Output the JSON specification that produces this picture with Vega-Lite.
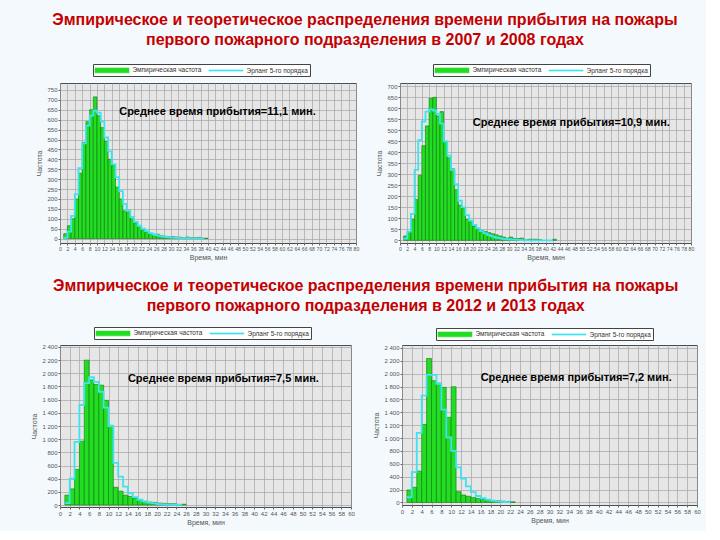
{
  "$schema": "https://vega.github.io/schema/vega-lite/v6.json",
  "background": "#f3f9fc",
  "padding": {"left": 30, "top": 12, "right": 5, "bottom": 5},
  "datasets": {
    "p1": [
      {"t":1,"te":2,"emp":25,"erl":4},{"t":2,"te":3,"emp":65,"erl":35},{"t":3,"te":4,"emp":100,"erl":115},{"t":4,"te":5,"emp":200,"erl":225},
      {"t":5,"te":6,"emp":330,"erl":355},{"t":6,"te":7,"emp":485,"erl":480},{"t":7,"te":8,"emp":590,"erl":570},{"t":8,"te":9,"emp":650,"erl":620},
      {"t":9,"te":10,"emp":715,"erl":645},{"t":10,"te":11,"emp":620,"erl":635},{"t":11,"te":12,"emp":560,"erl":590},{"t":12,"te":13,"emp":490,"erl":510},
      {"t":13,"te":14,"emp":400,"erl":440},{"t":14,"te":15,"emp":370,"erl":375},{"t":15,"te":16,"emp":260,"erl":310},{"t":16,"te":17,"emp":200,"erl":240},
      {"t":17,"te":18,"emp":140,"erl":175},{"t":18,"te":19,"emp":140,"erl":140},{"t":19,"te":20,"emp":100,"erl":110},{"t":20,"te":21,"emp":80,"erl":85},
      {"t":21,"te":22,"emp":60,"erl":65},{"t":22,"te":23,"emp":45,"erl":50},{"t":23,"te":24,"emp":35,"erl":38},{"t":24,"te":25,"emp":25,"erl":28},
      {"t":25,"te":26,"emp":22,"erl":21},{"t":26,"te":27,"emp":22,"erl":16},{"t":27,"te":28,"emp":15,"erl":12},{"t":28,"te":29,"emp":12,"erl":9},
      {"t":29,"te":30,"emp":10,"erl":7},{"t":30,"te":31,"emp":10,"erl":5},{"t":31,"te":32,"emp":8,"erl":4},{"t":32,"te":33,"emp":7,"erl":3},
      {"t":33,"te":34,"emp":5,"erl":2},{"t":34,"te":35,"emp":8,"erl":2},{"t":35,"te":36,"emp":5,"erl":1},{"t":36,"te":37,"emp":5,"erl":1},
      {"t":37,"te":38,"emp":6,"erl":1},{"t":38,"te":39,"emp":3,"erl":0},{"t":39,"te":40,"emp":2,"erl":0}
    ],
    "p2": [
      {"t":1,"te":2,"emp":20,"erl":8},{"t":2,"te":3,"emp":40,"erl":40},{"t":3,"te":4,"emp":95,"erl":120},{"t":4,"te":5,"emp":185,"erl":320},
      {"t":5,"te":6,"emp":295,"erl":455},{"t":6,"te":7,"emp":430,"erl":540},{"t":7,"te":8,"emp":520,"erl":585},{"t":8,"te":9,"emp":645,"erl":595},
      {"t":9,"te":10,"emp":650,"erl":590},{"t":10,"te":11,"emp":565,"erl":575},{"t":11,"te":12,"emp":585,"erl":530},{"t":12,"te":13,"emp":450,"erl":450},
      {"t":13,"te":14,"emp":375,"erl":385},{"t":14,"te":15,"emp":325,"erl":320},{"t":15,"te":16,"emp":230,"erl":255},{"t":16,"te":17,"emp":160,"erl":180},
      {"t":17,"te":18,"emp":145,"erl":150},{"t":18,"te":19,"emp":95,"erl":115},{"t":19,"te":20,"emp":85,"erl":90},{"t":20,"te":21,"emp":65,"erl":70},
      {"t":21,"te":22,"emp":50,"erl":55},{"t":22,"te":23,"emp":45,"erl":42},{"t":23,"te":24,"emp":40,"erl":32},{"t":24,"te":25,"emp":35,"erl":24},
      {"t":25,"te":26,"emp":30,"erl":18},{"t":26,"te":27,"emp":25,"erl":13},{"t":27,"te":28,"emp":20,"erl":10},{"t":28,"te":29,"emp":15,"erl":7},
      {"t":29,"te":30,"emp":10,"erl":5},{"t":30,"te":31,"emp":15,"erl":4},{"t":31,"te":32,"emp":8,"erl":3},{"t":32,"te":33,"emp":8,"erl":2},
      {"t":33,"te":34,"emp":10,"erl":1},{"t":34,"te":35,"emp":3,"erl":1},{"t":35,"te":36,"emp":5,"erl":0},{"t":36,"te":37,"emp":5,"erl":0},
      {"t":37,"te":38,"emp":5,"erl":0},{"t":38,"te":39,"emp":3,"erl":0},{"t":42,"te":43,"emp":5,"erl":0}
    ],
    "p3": [
      {"t":1,"te":2,"emp":150,"erl":30},{"t":2,"te":3,"emp":245,"erl":400},{"t":3,"te":4,"emp":540,"erl":960},{"t":4,"te":5,"emp":970,"erl":1520},
      {"t":5,"te":6,"emp":2200,"erl":1850},{"t":6,"te":7,"emp":1900,"erl":1940},{"t":7,"te":8,"emp":1830,"erl":1870},{"t":8,"te":9,"emp":1820,"erl":1720},
      {"t":9,"te":10,"emp":1590,"erl":1480},{"t":10,"te":11,"emp":1210,"erl":1200},{"t":11,"te":12,"emp":270,"erl":640},{"t":12,"te":13,"emp":210,"erl":430},
      {"t":13,"te":14,"emp":150,"erl":280},{"t":14,"te":15,"emp":130,"erl":180},{"t":15,"te":16,"emp":105,"erl":120},{"t":16,"te":17,"emp":75,"erl":80},
      {"t":17,"te":18,"emp":55,"erl":55},{"t":18,"te":19,"emp":45,"erl":35},{"t":19,"te":20,"emp":40,"erl":25},{"t":20,"te":21,"emp":30,"erl":15},
      {"t":21,"te":22,"emp":25,"erl":10},{"t":22,"te":23,"emp":20,"erl":6},{"t":23,"te":24,"emp":20,"erl":4},{"t":24,"te":25,"emp":10,"erl":2},
      {"t":25,"te":26,"emp":12,"erl":0}
    ],
    "p4": [
      {"t":1,"te":2,"emp":193,"erl":80},{"t":2,"te":3,"emp":235,"erl":470},{"t":3,"te":4,"emp":486,"erl":1080},{"t":4,"te":5,"emp":1211,"erl":1660},
      {"t":5,"te":6,"emp":2235,"erl":1980},{"t":6,"te":7,"emp":1890,"erl":1980},{"t":7,"te":8,"emp":1854,"erl":1840},{"t":8,"te":9,"emp":1786,"erl":1440},
      {"t":9,"te":10,"emp":1321,"erl":1010},{"t":10,"te":11,"emp":1796,"erl":800},{"t":11,"te":12,"emp":167,"erl":545},{"t":12,"te":13,"emp":115,"erl":370},
      {"t":13,"te":14,"emp":95,"erl":250},{"t":14,"te":15,"emp":75,"erl":160},{"t":15,"te":16,"emp":60,"erl":100},{"t":16,"te":17,"emp":45,"erl":65},
      {"t":17,"te":18,"emp":35,"erl":42},{"t":18,"te":19,"emp":30,"erl":27},{"t":19,"te":20,"emp":25,"erl":17},{"t":20,"te":21,"emp":20,"erl":10},
      {"t":21,"te":22,"emp":15,"erl":6},{"t":22,"te":23,"emp":10,"erl":3}
    ]
  },
  "vconcat": [
    {
      "title": {
        "text": ["Эмпирическое и теоретическое распределения времени прибытия на пожары", "первого пожарного подразделения в 2007 и 2008 годах"],
        "anchor": "middle", "font": "Liberation Sans", "fontSize": 16, "fontWeight": "bold", "color": "#c40000", "lineHeight": 20, "offset": 15
      },
      "spacing": 15,
      "resolve": {"scale": {"color": "independent"}, "legend": {"color": "independent"}},
      "hconcat": [
        {
          "width": 296, "height": 160,
          "encoding": {
            "x": {"type": "quantitative", "scale": {"domain": [0, 80], "nice": false, "zero": false},
                  "axis": {"title": "Время, мин", "labelFontSize": 5.2, "values": [0,2,4,6,8,10,12,14,16,18,20,22,24,26,28,30,32,34,36,38,40,42,44,46,48,50,52,54,56,58,60,62,64,66,68,70,72,74,76,78,80]}},
            "y": {"type": "quantitative", "scale": {"domain": [-22, 785], "nice": false},
                  "axis": {"title": "Частота", "values": [0,50,100,150,200,250,300,350,400,450,500,550,600,650,700,750]}}
          },
          "layer": [
            {
              "data": {"name": "p1"},
              "mark": {"type": "bar", "stroke": "#0d7a0d", "strokeWidth": 0.6},
              "encoding": {
                "x": {"field": "t"},
                "x2": {"field": "te"},
                "y": {"field": "emp"},
                "y2": {"datum": 0},
                "color": {"datum": "Эмпирическая частота", "type": "nominal",
                          "scale": {"domain": ["Эмпирическая частота", "Эрланг 5-го порядка"], "range": ["#22dd22", "#3ee3f0"]},
                          "legend": {"title": null, "orient": "none", "legendX": 33, "legendY": -19, "direction": "horizontal",
                                     "encode": {"symbols": {"update": {
                                       "shape": {"signal": "datum.value === 'Эмпирическая частота' ? 'M-1,-0.6H7.5V0.6H-1Z' : 'M-1,-0.15H7.5V0.15H-1Z'"},
                                       "fill": {"signal": "datum.value === 'Эмпирическая частота' ? '#22dd22' : '#3ee3f0'"},
                                       "stroke": {"signal": "datum.value === 'Эмпирическая частота' ? '#0d7a0d' : '#3ee3f0'"},
                                       "strokeWidth": {"value": 0.6}, "opacity": {"value": 1}}}}}}
              }
            },
            {
              "data": {"name": "p1"},
              "mark": {"type": "line", "interpolate": "step-after", "strokeWidth": 1.8},
              "encoding": {
                "x": {"field": "t"},
                "y": {"field": "erl"},
                "color": {"datum": "Эрланг 5-го порядка", "type": "nominal",
                          "scale": {"domain": ["Эмпирическая частота", "Эрланг 5-го порядка"], "range": ["#22dd22", "#3ee3f0"]},
                          "legend": {"title": null, "orient": "none", "legendX": 33, "legendY": -19, "direction": "horizontal",
                                     "encode": {"symbols": {"update": {
                                       "shape": {"signal": "datum.value === 'Эмпирическая частота' ? 'M-1,-0.6H7.5V0.6H-1Z' : 'M-1,-0.15H7.5V0.15H-1Z'"},
                                       "fill": {"signal": "datum.value === 'Эмпирическая частота' ? '#22dd22' : '#3ee3f0'"},
                                       "stroke": {"signal": "datum.value === 'Эмпирическая частота' ? '#0d7a0d' : '#3ee3f0'"},
                                       "strokeWidth": {"value": 0.6}, "opacity": {"value": 1}}}}}}
              }
            },
            {
              "data": {"values": [{"label": "Среднее время прибытия=11,1 мин."}]},
              "mark": {"type": "text", "align": "left", "baseline": "middle", "font": "Liberation Sans", "fontSize": 11, "fontWeight": "bold", "color": "#000000"},
              "encoding": {"x": {"datum": 16}, "y": {"datum": 640}, "text": {"field": "label"}}
            }
          ]
        },
        {
          "width": 291, "height": 160,
          "encoding": {
            "x": {"type": "quantitative", "scale": {"domain": [0, 80], "nice": false, "zero": false},
                  "axis": {"title": "Время, мин", "labelFontSize": 5.2, "values": [0,2,4,6,8,10,12,14,16,18,20,22,24,26,28,30,32,34,36,38,40,42,44,46,48,50,52,54,56,58,60,62,64,66,68,70,72,74,76,78,80]}},
            "y": {"type": "quantitative", "scale": {"domain": [-12, 715], "nice": false},
                  "axis": {"title": "Частота", "values": [0,50,100,150,200,250,300,350,400,450,500,550,600,650,700]}}
          },
          "layer": [
            {
              "data": {"name": "p2"},
              "mark": {"type": "bar", "stroke": "#0d7a0d", "strokeWidth": 0.6},
              "encoding": {
                "x": {"field": "t"},
                "x2": {"field": "te"},
                "y": {"field": "emp"},
                "y2": {"datum": 0},
                "color": {"datum": "Эмпирическая частота", "type": "nominal",
                          "scale": {"domain": ["Эмпирическая частота", "Эрланг 5-го порядка"], "range": ["#22dd22", "#3ee3f0"]},
                          "legend": {"title": null, "orient": "none", "legendX": 33, "legendY": -19, "direction": "horizontal",
                                     "encode": {"symbols": {"update": {
                                       "shape": {"signal": "datum.value === 'Эмпирическая частота' ? 'M-1,-0.6H7.5V0.6H-1Z' : 'M-1,-0.15H7.5V0.15H-1Z'"},
                                       "fill": {"signal": "datum.value === 'Эмпирическая частота' ? '#22dd22' : '#3ee3f0'"},
                                       "stroke": {"signal": "datum.value === 'Эмпирическая частота' ? '#0d7a0d' : '#3ee3f0'"},
                                       "strokeWidth": {"value": 0.6}, "opacity": {"value": 1}}}}}}
              }
            },
            {
              "data": {"name": "p2"},
              "mark": {"type": "line", "interpolate": "step-after", "strokeWidth": 1.8},
              "encoding": {
                "x": {"field": "t"},
                "y": {"field": "erl"},
                "color": {"datum": "Эрланг 5-го порядка", "type": "nominal",
                          "scale": {"domain": ["Эмпирическая частота", "Эрланг 5-го порядка"], "range": ["#22dd22", "#3ee3f0"]},
                          "legend": {"title": null, "orient": "none", "legendX": 33, "legendY": -19, "direction": "horizontal",
                                     "encode": {"symbols": {"update": {
                                       "shape": {"signal": "datum.value === 'Эмпирическая частота' ? 'M-1,-0.6H7.5V0.6H-1Z' : 'M-1,-0.15H7.5V0.15H-1Z'"},
                                       "fill": {"signal": "datum.value === 'Эмпирическая частота' ? '#22dd22' : '#3ee3f0'"},
                                       "stroke": {"signal": "datum.value === 'Эмпирическая частота' ? '#0d7a0d' : '#3ee3f0'"},
                                       "strokeWidth": {"value": 0.6}, "opacity": {"value": 1}}}}}}
              }
            },
            {
              "data": {"values": [{"label": "Среднее время прибытия=10,9 мин."}]},
              "mark": {"type": "text", "align": "left", "baseline": "middle", "font": "Liberation Sans", "fontSize": 11, "fontWeight": "bold", "color": "#000000"},
              "encoding": {"x": {"datum": 20}, "y": {"datum": 535}, "text": {"field": "label"}}
            }
          ]
        }
      ]
    },
    {
      "title": {
        "text": ["Эмпирическое и теоретическое распределения времени прибытия на пожары", "первого пожарного подразделения в 2012 и 2013 годах"],
        "anchor": "middle", "font": "Liberation Sans", "fontSize": 16, "fontWeight": "bold", "color": "#c40000", "lineHeight": 20, "offset": 12
      },
      "spacing": 17,
      "resolve": {"scale": {"color": "independent"}, "legend": {"color": "independent"}},
      "hconcat": [
        {
          "width": 291, "height": 162,
          "encoding": {
            "x": {"type": "quantitative", "scale": {"domain": [0, 60], "nice": false, "zero": false},
                  "axis": {"title": "Время, мин", "values": [0,2,4,6,8,10,12,14,16,18,20,22,24,26,28,30,32,34,36,38,40,42,44,46,48,50,52,54,56,58,60]}},
            "y": {"type": "quantitative", "scale": {"domain": [-30, 2430], "nice": false},
                  "axis": {"title": "Частота", "values": [0,200,400,600,800,1000,1200,1400,1600,1800,2000,2200,2400], "labelExpr": "replace(format(datum.value, ','), ',', ' ')"}}
          },
          "layer": [
            {
              "data": {"name": "p3"},
              "mark": {"type": "bar", "stroke": "#0d7a0d", "strokeWidth": 0.6},
              "encoding": {
                "x": {"field": "t"},
                "x2": {"field": "te"},
                "y": {"field": "emp"},
                "y2": {"datum": 0},
                "color": {"datum": "Эмпирическая частота", "type": "nominal",
                          "scale": {"domain": ["Эмпирическая частота", "Эрланг 5-го порядка"], "range": ["#22dd22", "#3ee3f0"]},
                          "legend": {"title": null, "orient": "none", "legendX": 34, "legendY": -18, "direction": "horizontal",
                                     "encode": {"symbols": {"update": {
                                       "shape": {"signal": "datum.value === 'Эмпирическая частота' ? 'M-1,-0.6H7.5V0.6H-1Z' : 'M-1,-0.15H7.5V0.15H-1Z'"},
                                       "fill": {"signal": "datum.value === 'Эмпирическая частота' ? '#22dd22' : '#3ee3f0'"},
                                       "stroke": {"signal": "datum.value === 'Эмпирическая частота' ? '#0d7a0d' : '#3ee3f0'"},
                                       "strokeWidth": {"value": 0.6}, "opacity": {"value": 1}}}}}}
              }
            },
            {
              "data": {"name": "p3"},
              "mark": {"type": "line", "interpolate": "step-after", "strokeWidth": 1.8},
              "encoding": {
                "x": {"field": "t"},
                "y": {"field": "erl"},
                "color": {"datum": "Эрланг 5-го порядка", "type": "nominal",
                          "scale": {"domain": ["Эмпирическая частота", "Эрланг 5-го порядка"], "range": ["#22dd22", "#3ee3f0"]},
                          "legend": {"title": null, "orient": "none", "legendX": 34, "legendY": -18, "direction": "horizontal",
                                     "encode": {"symbols": {"update": {
                                       "shape": {"signal": "datum.value === 'Эмпирическая частота' ? 'M-1,-0.6H7.5V0.6H-1Z' : 'M-1,-0.15H7.5V0.15H-1Z'"},
                                       "fill": {"signal": "datum.value === 'Эмпирическая частота' ? '#22dd22' : '#3ee3f0'"},
                                       "stroke": {"signal": "datum.value === 'Эмпирическая частота' ? '#0d7a0d' : '#3ee3f0'"},
                                       "strokeWidth": {"value": 0.6}, "opacity": {"value": 1}}}}}}
              }
            },
            {
              "data": {"values": [{"label": "Среднее время прибытия=7,5 мин."}]},
              "mark": {"type": "text", "align": "left", "baseline": "middle", "font": "Liberation Sans", "fontSize": 11, "fontWeight": "bold", "color": "#000000"},
              "encoding": {"x": {"datum": 14}, "y": {"datum": 1920}, "text": {"field": "label"}}
            }
          ]
        },
        {
          "width": 295, "height": 160,
          "encoding": {
            "x": {"type": "quantitative", "scale": {"domain": [0, 60], "nice": false, "zero": false},
                  "axis": {"title": "Время, мин", "values": [0,2,4,6,8,10,12,14,16,18,20,22,24,26,28,30,32,34,36,38,40,42,44,46,48,50,52,54,56,58,60]}},
            "y": {"type": "quantitative", "scale": {"domain": [-40, 2445], "nice": false},
                  "axis": {"title": "Частота", "values": [0,200,400,600,800,1000,1200,1400,1600,1800,2000,2200,2400], "labelExpr": "replace(format(datum.value, ','), ',', ' ')"}}
          },
          "layer": [
            {
              "data": {"name": "p4"},
              "mark": {"type": "bar", "stroke": "#0d7a0d", "strokeWidth": 0.6},
              "encoding": {
                "x": {"field": "t"},
                "x2": {"field": "te"},
                "y": {"field": "emp"},
                "y2": {"datum": 0},
                "color": {"datum": "Эмпирическая частота", "type": "nominal",
                          "scale": {"domain": ["Эмпирическая частота", "Эрланг 5-го порядка"], "range": ["#22dd22", "#3ee3f0"]},
                          "legend": {"title": null, "orient": "none", "legendX": 34, "legendY": -17, "direction": "horizontal",
                                     "encode": {"symbols": {"update": {
                                       "shape": {"signal": "datum.value === 'Эмпирическая частота' ? 'M-1,-0.6H7.5V0.6H-1Z' : 'M-1,-0.15H7.5V0.15H-1Z'"},
                                       "fill": {"signal": "datum.value === 'Эмпирическая частота' ? '#22dd22' : '#3ee3f0'"},
                                       "stroke": {"signal": "datum.value === 'Эмпирическая частота' ? '#0d7a0d' : '#3ee3f0'"},
                                       "strokeWidth": {"value": 0.6}, "opacity": {"value": 1}}}}}}
              }
            },
            {
              "data": {"name": "p4"},
              "mark": {"type": "line", "interpolate": "step-after", "strokeWidth": 1.8},
              "encoding": {
                "x": {"field": "t"},
                "y": {"field": "erl"},
                "color": {"datum": "Эрланг 5-го порядка", "type": "nominal",
                          "scale": {"domain": ["Эмпирическая частота", "Эрланг 5-го порядка"], "range": ["#22dd22", "#3ee3f0"]},
                          "legend": {"title": null, "orient": "none", "legendX": 34, "legendY": -17, "direction": "horizontal",
                                     "encode": {"symbols": {"update": {
                                       "shape": {"signal": "datum.value === 'Эмпирическая частота' ? 'M-1,-0.6H7.5V0.6H-1Z' : 'M-1,-0.15H7.5V0.15H-1Z'"},
                                       "fill": {"signal": "datum.value === 'Эмпирическая частота' ? '#22dd22' : '#3ee3f0'"},
                                       "stroke": {"signal": "datum.value === 'Эмпирическая частота' ? '#0d7a0d' : '#3ee3f0'"},
                                       "strokeWidth": {"value": 0.6}, "opacity": {"value": 1}}}}}}
              }
            },
            {
              "data": {"values": [{"label": "Среднее время прибытия=7,2 мин."}]},
              "mark": {"type": "text", "align": "left", "baseline": "middle", "font": "Liberation Sans", "fontSize": 11, "fontWeight": "bold", "color": "#000000"},
              "encoding": {"x": {"datum": 16}, "y": {"datum": 1930}, "text": {"field": "label"}}
            }
          ]
        }
      ]
    }
  ],
  "spacing": 17,
  "resolve": {"scale": {"color": "independent"}, "legend": {"color": "independent"}},
  "config": {
    "view": {"fill": "#e6e6e6", "stroke": "#4d4d4d", "strokeWidth": 1},
    "axis": {
      "labelFont": "Liberation Sans", "labelFontSize": 6, "labelColor": "#555555",
      "titleFont": "Liberation Sans", "titleFontSize": 7, "titleColor": "#555555", "titleFontWeight": "normal",
      "gridColor": "#a3a3a3", "gridWidth": 0.7, "gridOpacity": 1, "domain": false,
      "tickColor": "#666666", "tickSize": 2, "labelPadding": 1, "labelOverlap": false, "labelFlush": false
    },
    "axisY": {"titlePadding": 4},
    "axisX": {"titlePadding": 2},
    "legend": {
      "strokeColor": "#444444", "fillColor": "#ffffff", "padding": 1.5,
      "symbolSize": 64, "labelFont": "Liberation Sans", "labelFontSize": 6.5, "labelColor": "#333333",
      "labelOffset": 29, "columnPadding": 6, "symbolStrokeWidth": 0.6
    }
  }
}
